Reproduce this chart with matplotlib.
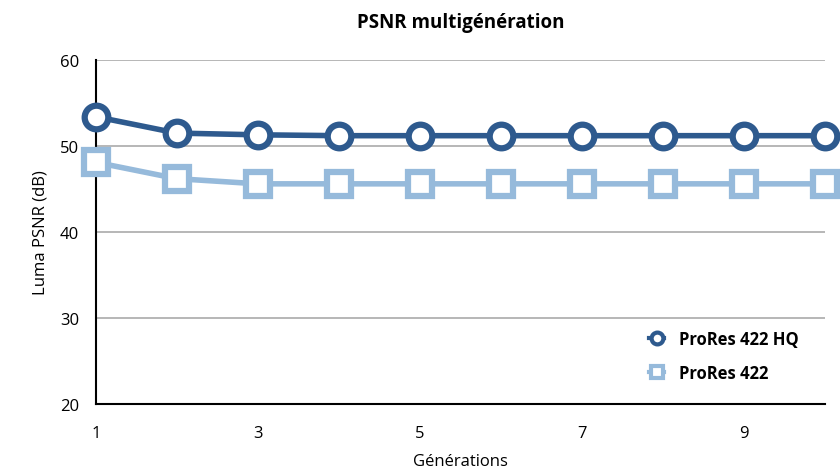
import matplotlib
matplotlib.use('Agg')
import matplotlib.pyplot as plt

# données
generations = [1, 2, 3, 4, 5, 6, 7, 8, 9, 10]
psnr_hq = [53.4, 51.5, 51.3, 51.2, 51.2, 51.2, 51.2, 51.2, 51.2, 51.2]
psnr_422 = [48.1, 46.2, 45.6, 45.6, 45.6, 45.6, 45.6, 45.6, 45.6, 45.6]
x_ticks = [1, 3, 5, 7, 9]
y_ticks = [20, 30, 40, 50, 60]

plt.rcParams['font.family'] = ['Open Sans', 'DejaVu Sans']

fig = plt.figure(figsize=(8.4, 4.77), dpi=100)
ax = fig.add_axes([96 / 840, 1 - 405 / 477, (825 - 96) / 840, (405 - 61) / 477])

ax.plot(generations, psnr_hq, color='#2E5A8E', lw=4, marker='o', ms=17,
        mfc='white', mec='#2E5A8E', mew=4.5, clip_on=False, zorder=4,
        label='ProRes 422 HQ')
ax.plot(generations, psnr_422, color='#96BADB', lw=4, marker='s', ms=17,
        mfc='white', mec='#96BADB', mew=4.5, clip_on=False, zorder=3,
        label='ProRes 422')

ax.set_xlim(1, 10)
ax.set_ylim(20, 60)
ax.set_xticks(x_ticks)
ax.set_yticks(y_ticks)
ax.tick_params(axis='y', length=0, labelsize=12, pad=12)
ax.tick_params(axis='x', length=0, labelsize=12, pad=15)
ax.yaxis.grid(True, color='#AAAAAA', lw=1.2)
ax.set_axisbelow(True)
for s in ['top', 'right']:
    ax.spines[s].set_visible(False)
for s in ['left', 'bottom']:
    ax.spines[s].set_linewidth(1.5)

ax.set_xlabel('Générations', fontsize=12, labelpad=9)
ax.set_ylabel('Luma PSNR (dB)', fontsize=12, labelpad=8)
ax.set_title('PSNR multigénération', fontsize=13.5, fontweight='bold', pad=24)

leg = ax.legend(loc='lower right', bbox_to_anchor=(0.985, 0.02), frameon=False,
                fontsize=12, markerscale=0.5, handlelength=0.9,
                labelspacing=0.95, handletextpad=0.9)
for t in leg.get_texts():
    t.set_fontweight('bold')
for h in leg.legend_handles:
    h.set_linewidth(3)
    h.set_markeredgewidth(3)

fig.savefig('out.png', dpi=100)
